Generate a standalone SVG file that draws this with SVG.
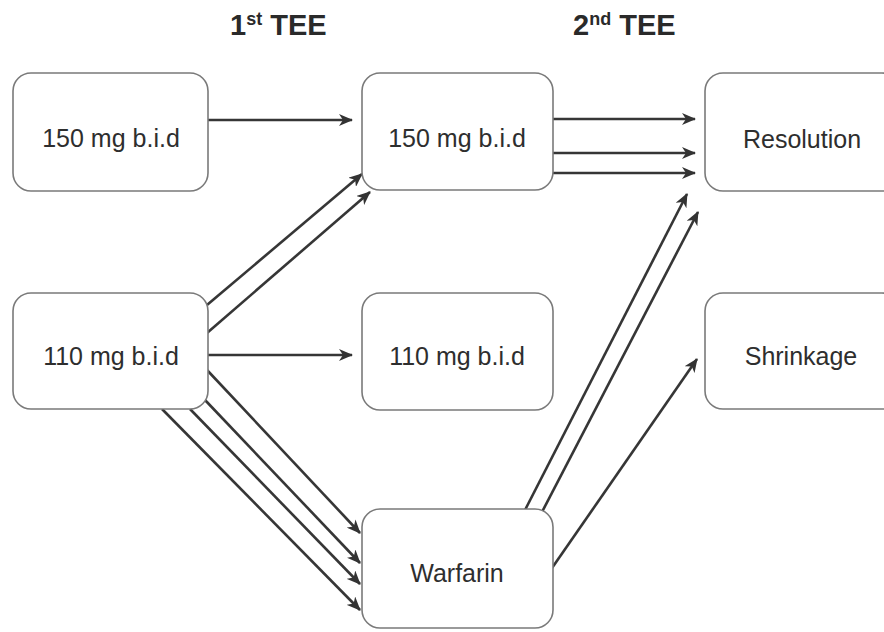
<svg xmlns="http://www.w3.org/2000/svg" width="884" height="632" viewBox="0 0 884 632">
  <defs>
    <marker id="head" viewBox="0 0 14 12" refX="13" refY="6" markerWidth="14" markerHeight="12" markerUnits="userSpaceOnUse" orient="auto">
      <path d="M0,0 L14,6 L0,12 L4,6 z" fill="#333"/>
    </marker>
  </defs>
  <style>
    .box { fill: #fff; stroke: #7a7a7a; stroke-width: 1.6; }
    .label { font-family: "Liberation Sans", Arial, sans-serif; font-size: 25px; fill: #2e2e2e; text-anchor: middle; }
    .head { font-family: "Liberation Sans", Arial, sans-serif; font-size: 29px; font-weight: bold; fill: #2a2a2a; }
    .link { stroke: #363636; stroke-width: 2.6; fill: none; marker-end: url(#head); }
  </style>
  <rect width="884" height="632" fill="#fff"/>

  <!-- column headings -->
  <text class="head" x="230" y="35">1<tspan font-size="18" dy="-10">st</tspan><tspan dy="10"> TEE</tspan></text>
  <text class="head" x="573" y="35">2<tspan font-size="18" dy="-10">nd</tspan><tspan dy="10"> TEE</tspan></text>

  <!-- connectors -->
  <g id="connectors">
    <path class="link" d="M208,120 L352,120"/>
    <path class="link" d="M208,355 L352,355"/>
    <path class="link" d="M207,305 L362,174"/>
    <path class="link" d="M207,333 L370,192"/>
    <path class="link" d="M207,370 L360,533"/>
    <path class="link" d="M205,400 L360,563"/>
    <path class="link" d="M190,409 L360,584"/>
    <path class="link" d="M162,409 L360,610"/>
    <path class="link" d="M553,119 L695,119"/>
    <path class="link" d="M553,153 L695,153"/>
    <path class="link" d="M553,173 L695,173"/>
    <path class="link" d="M525,510 L687,194"/>
    <path class="link" d="M542,512 L698,212"/>
    <path class="link" d="M552,568 L697,359"/>
  </g>

  <!-- nodes -->
  <g id="dose150-first">
    <rect class="box" x="13" y="73" width="195" height="118" rx="18"/>
    <text class="label" x="111" y="147">150 mg b.i.d</text>
  </g>
  <g id="dose110-first">
    <rect class="box" x="13" y="293" width="195" height="116" rx="18"/>
    <text class="label" x="111" y="365">110 mg b.i.d</text>
  </g>
  <g id="dose150-second">
    <rect class="box" x="362" y="73" width="191" height="117" rx="18"/>
    <text class="label" x="457" y="147">150 mg b.i.d</text>
  </g>
  <g id="dose110-second">
    <rect class="box" x="362" y="293" width="191" height="117" rx="18"/>
    <text class="label" x="457" y="365">110 mg b.i.d</text>
  </g>
  <g id="warfarin">
    <rect class="box" x="362" y="509" width="191" height="119" rx="18"/>
    <text class="label" x="457" y="582">Warfarin</text>
  </g>
  <g id="resolution">
    <rect class="box" x="705" y="73" width="195" height="118" rx="18"/>
    <text class="label" x="802" y="148">Resolution</text>
  </g>
  <g id="shrinkage">
    <rect class="box" x="705" y="293" width="195" height="116" rx="18"/>
    <text class="label" x="801" y="365">Shrinkage</text>
  </g>
</svg>
